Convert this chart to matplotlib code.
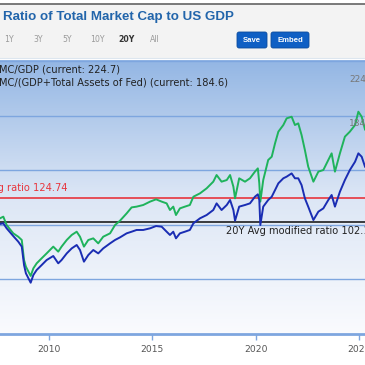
import numpy as np
import matplotlib
matplotlib.use('Agg')
import matplotlib.pyplot as plt
from matplotlib.colors import LinearSegmentedColormap
from matplotlib.patches import FancyBboxPatch

# values (decimal years)
years = [2007.66, 2007.82, 2007.98, 2008.30, 2008.54, 2008.71, 2008.82, 2008.91, 2009.14, 2009.27,
         2009.43, 2009.67, 2009.91, 2010.23, 2010.47, 2010.63, 2010.88, 2011.12, 2011.36, 2011.52,
         2011.71, 2011.92, 2012.16, 2012.40, 2012.64, 2012.97, 2013.21, 2013.45, 2013.77, 2014.01,
         2014.25, 2014.57, 2014.90, 2015.19, 2015.46, 2015.70, 2015.86, 2016.02, 2016.15, 2016.34,
         2016.58, 2016.82, 2016.99, 2017.31, 2017.63, 2017.95, 2018.11, 2018.35, 2018.60, 2018.76,
         2018.92, 2019.00, 2019.20, 2019.48, 2019.72, 2019.96, 2020.10, 2020.17, 2020.22, 2020.36,
         2020.60, 2020.77, 2020.93, 2021.09, 2021.33, 2021.49, 2021.73, 2021.89, 2022.05, 2022.21,
         2022.37, 2022.53, 2022.78, 2023.02, 2023.26, 2023.50, 2023.66, 2023.82, 2024.06, 2024.30,
         2024.54, 2024.79, 2024.95, 2025.11, 2025.27]
tmc_gdp = [105.7, 107.2, 99.5, 91.9, 88.8, 85.8, 67.4, 61.3, 52.8, 59.8,
           64.4, 69.0, 73.5, 79.7, 75.1, 79.7, 85.8, 90.4, 93.4, 88.8,
           79.7, 85.8, 87.3, 82.7, 88.8, 91.9, 99.5, 103.5, 110.2, 115.7,
           116.4, 117.9, 121.0, 123.1, 121.0, 119.4, 113.3, 116.4, 108.7, 114.8,
           116.4, 117.9, 125.5, 128.6, 133.2, 139.3, 145.4, 139.3, 140.8, 145.4,
           134.7, 124.0, 142.4, 139.3, 142.4, 148.5, 151.5, 137.8, 121.0, 140.8,
           159.2, 162.2, 174.5, 185.2, 191.3, 197.4, 198.9, 191.3, 192.8, 182.1,
           168.3, 153.1, 139.3, 148.5, 150.0, 159.2, 165.3, 148.5, 165.3, 180.6,
           185.2, 191.3, 203.5, 198.9, 187.2]
tmc_gdp_fed = [100.5, 101.1, 96.5, 89.4, 84.3, 79.7, 62.8, 55.2, 46.6, 53.7,
               58.3, 62.8, 67.4, 71.1, 64.4, 67.4, 73.5, 78.1, 81.2, 76.6,
               65.9, 72.0, 76.6, 73.5, 78.1, 82.7, 85.8, 88.2, 91.9, 93.4,
               95.0, 95.0, 96.5, 98.6, 98.0, 93.4, 90.4, 93.4, 87.3, 91.9,
               93.4, 95.0, 101.1, 105.7, 108.7, 113.3, 119.4, 113.3, 117.9, 122.5,
               113.3, 103.5, 116.4, 117.9, 119.4, 125.5, 127.7, 122.5, 99.5, 116.4,
               122.5, 125.5, 131.6, 137.8, 142.4, 143.9, 146.9, 142.4, 142.4, 136.2,
               124.0, 116.4, 104.1, 111.8, 114.8, 122.5, 127.1, 116.4, 130.1, 140.8,
               150.0, 157.6, 165.3, 162.2, 153.1]

avg_ratio = 124.74
avg_mod_ratio = 102.1
cur_gdp = 224.7
cur_fed = 184.6
tick_years = [2010, 2015, 2020, 2025]
periods = ['1Y', '3Y', '5Y', '10Y', '20Y', 'All']

W = H = 365


def fx(px):
    return px / W


def fy(py):
    return 1 - py / H


fig = plt.figure(figsize=(3.65, 3.65), dpi=100, facecolor='#ffffff')

# header band
fig.patches.append(plt.Rectangle((0, fy(58)), 1, fy(4) - fy(58), transform=fig.transFigure,
                                 facecolor='#f3f3f3', edgecolor='none', zorder=0))
fig.add_artist(plt.Line2D([0, 1], [fy(4), fy(4)], color='#6f6f6f', lw=1.3))
fig.add_artist(plt.Line2D([0, 1], [fy(57.5), fy(57.5)], color='#dde6ef', lw=0.8))

fig.text(fx(3), fy(17), 'Ratio of Total Market Cap to US GDP', fontsize=9.6, fontweight='bold',
         color='#2265ab', family='Liberation Sans', va='center', ha='left')

per_x = [4, 33, 62, 90, 118, 150]
for lab, x in zip(periods, per_x):
    bold = lab == '20Y'
    fig.text(fx(x), fy(39.5), lab, fontsize=5.6, color='#333333' if bold else '#9a9a9a',
             fontweight='bold' if bold else 'normal', va='center', ha='left')

for lab, x0, x1 in [('Save', 237, 267), ('Embed', 271, 309)]:
    box = FancyBboxPatch((fx(x0), fy(48)), fx(x1 - x0), fy(32) - fy(48), transform=fig.transFigure,
                         boxstyle='round,pad=0,rounding_size=0.006', facecolor='#0f5fc4',
                         edgecolor='#0b4a9c', lw=0.6)
    fig.patches.append(box)
    fig.text(fx((x0 + x1) / 2), fy(40), lab, fontsize=5.6, fontweight='bold', color='white',
             ha='center', va='center', family='Liberation Sans')

# plot area
ax = fig.add_axes([0, fy(333.5), 1, fy(59.5) - fy(333.5)])
x0, x1 = 2007.66, 2025.27
y0, y1 = 0, 251.4
ax.set_xlim(x0, x1)
ax.set_ylim(y0, y1)

cmap = LinearSegmentedColormap.from_list('bg', ['#fafbfe', '#dce6f5', '#93b6e4'])
grad = np.linspace(0, 1, 256).reshape(-1, 1)
ax.imshow(grad, extent=[x0, x1, y0, y1], origin='lower', aspect='auto', cmap=cmap, zorder=0)

for g in [50, 100, 150, 200, 250]:
    ax.axhline(g, color='#7ea6df', lw=1.0, zorder=1)

ax.axhline(avg_ratio, color='#e8353d', lw=1.2, zorder=2)
ax.axhline(avg_mod_ratio, color='#1e1e1e', lw=1.2, zorder=2)

ax.plot(years, tmc_gdp, color='#1fb35c', lw=1.4, zorder=3)
ax.plot(years, tmc_gdp_fed, color='#1a2db3', lw=1.4, zorder=4)

ax.text(2010.94, (333.5 - 188.3) / 1.09, '20Y Avg ratio %.2f' % avg_ratio, color='#e8353d',
        fontsize=7.1, ha='right', va='center', zorder=5)
ax.text(2018.56, (333.5 - 230.5) / 1.09, '20Y Avg modified ratio %.1f' % avg_mod_ratio, color='#222222',
        fontsize=7.1, ha='left', va='center', zorder=5)

ax.annotate('%.1f' % cur_gdp, (2024.5, cur_gdp), xytext=(0, 6.5), textcoords='offset points',
            fontsize=6.5, color='#777777', ha='left', va='center', zorder=5)
ax.annotate('%.1f' % cur_fed, (2024.5, cur_fed), xytext=(0, 6.5), textcoords='offset points',
            fontsize=6.5, color='#777777', ha='left', va='center', zorder=5)

fig.text(fx(-6.5), fy(69), 'TMC/GDP (current: %.1f)' % cur_gdp, fontsize=7.1, color='#222222',
         ha='left', va='center')
fig.text(fx(-6.5), fy(82.5), 'TMC/(GDP+Total Assets of Fed) (current: %.1f)' % cur_fed, fontsize=7.1,
         color='#222222', ha='left', va='center')

for s in ['top', 'left', 'right']:
    ax.spines[s].set_visible(False)
ax.spines['bottom'].set_color('#7ea6df')
ax.spines['bottom'].set_linewidth(2)
ax.set_yticks([])
ax.set_xticks(tick_years)
ax.set_xticklabels([str(t) for t in tick_years])
ax.tick_params(axis='x', direction='out', length=4, width=1, color='#7ea6df', labelcolor='#555555',
               labelsize=6.6, pad=4)

fig.savefig('out.png', dpi=100, facecolor=fig.get_facecolor())
